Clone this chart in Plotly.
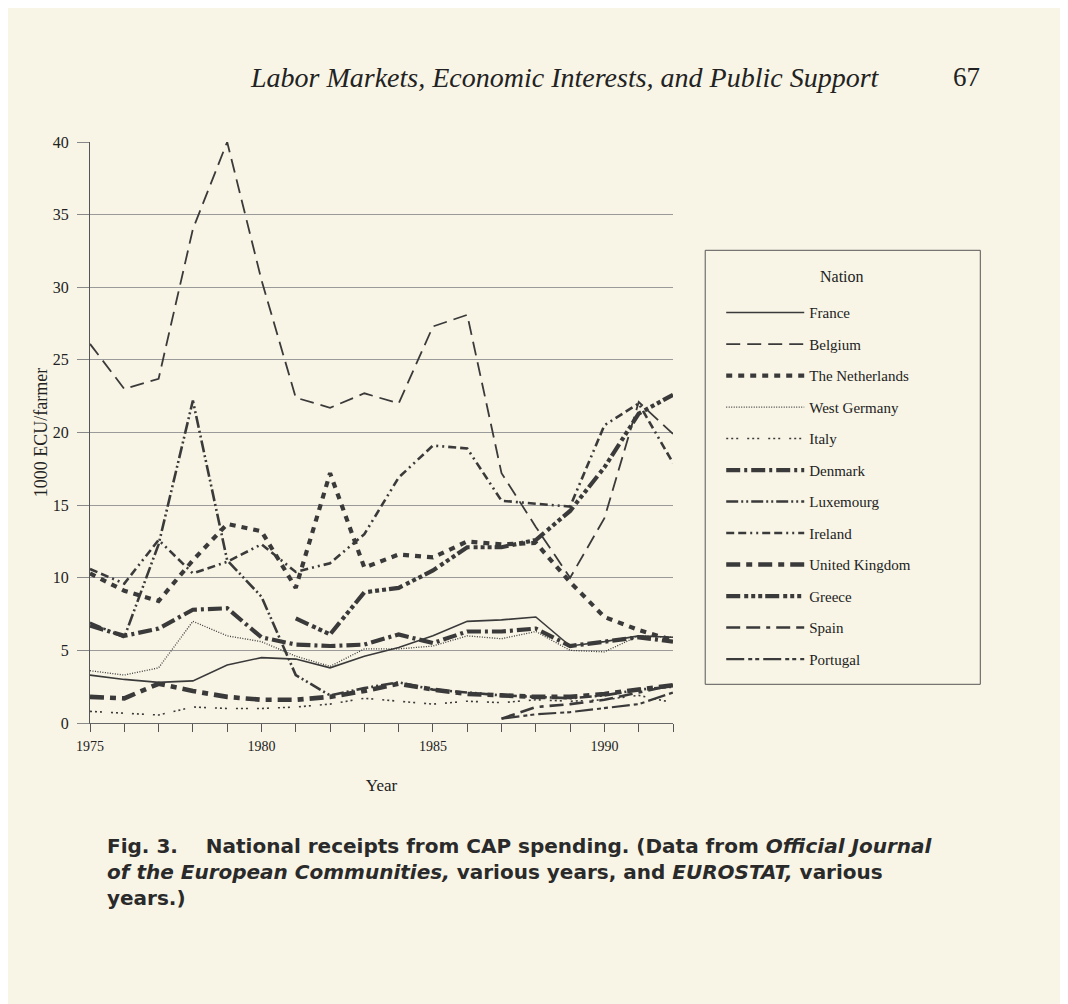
import plotly.graph_objects as go

# ---------------- data (1000 ECU per farmer) ----------------
years = list(range(1975, 1993))
france = [3.3, 3.0, 2.8, 2.9, 4.0, 4.5, 4.4, 3.8, 4.6, 5.2, 6.0, 7.0, 7.1, 7.3, 5.3, 5.6, 6.0, 5.9]
belgium = [26.1, 23.0, 23.7, 34.0, 40.0, 30.5, 22.4, 21.7, 22.7, 22.0, 27.3, 28.1, 17.2, 13.5, 10.0, 14.1, 22.1, 19.9]
netherlands = [10.3, 9.1, 8.4, 11.2, 13.7, 13.2, 9.3, 17.2, 10.7, 11.6, 11.4, 12.5, 12.3, 12.4, 9.7, 7.3, 6.4, 5.7]
west_germany = [3.6, 3.3, 3.8, 7.0, 6.0, 5.6, 4.6, 3.9, 5.1, 5.1, 5.3, 6.0, 5.8, 6.3, 5.0, 4.9, 6.0, 5.9]
italy = [0.8, 0.65, 0.55, 1.1, 1.0, 1.0, 1.1, 1.3, 1.7, 1.5, 1.3, 1.5, 1.4, 1.6, 1.5, 1.6, 1.9, 1.4]
denmark = [6.7, 6.0, 6.5, 7.8, 7.9, 5.9, 5.4, 5.3, 5.4, 6.1, 5.5, 6.3, 6.3, 6.5, 5.3, 5.6, 5.9, 5.6]
luxembourg = [6.9, 5.9, 12.3, 22.2, 11.2, 8.7, 3.3, 1.9, 2.4, 2.8, 2.3, 2.1, 1.9, 1.8, 1.7, 1.9, 2.3, 2.5]
ireland = [10.6, 9.6, 12.6, 10.3, 11.1, 12.3, 10.4, 11.0, 13.0, 16.9, 19.1, 18.9, 15.3, 15.1, 14.9, 20.5, 22.0, 17.9]
united_kingdom = [1.8, 1.7, 2.7, 2.2, 1.8, 1.6, 1.6, 1.8, 2.2, 2.7, 2.3, 2.0, 1.9, 1.8, 1.8, 2.0, 2.3, 2.6]
greece_years = list(range(1981, 1993))
greece = [7.2, 6.1, 9.0, 9.3, 10.5, 12.1, 12.1, 12.6, 14.6, 17.6, 21.3, 22.6]
iberia_years = list(range(1987, 1993))
spain = [0.3, 1.1, 1.3, 1.6, 2.1, 2.6]
portugal = [0.3, 0.6, 0.75, 1.0, 1.3, 2.1]

x_tick_years = list(range(1975, 1993))
x_tick_labels = [str(y) if y % 5 == 0 else "" for y in x_tick_years]
y_ticks = [0, 5, 10, 15, 20, 25, 30, 35, 40]

INK = "#3a3a3a"
PAPER = "#f8f5e6"
SERIF = "Liberation Serif, Times New Roman, serif"
SANS = "DejaVu Sans, Liberation Sans, sans-serif"

series = [
    ("France", years, france, 1.6, "solid"),
    ("Belgium", years, belgium, 1.8, "14px,7px"),
    ("The Netherlands", years, netherlands, 4.2, "6px,6px"),
    ("West Germany", years, west_germany, 1.3, "1px,1.5px"),
    ("Italy", years, italy, 1.6, "2px,3px,2px,3px,2px,9px"),
    ("Denmark", years, denmark, 4.2, "14px,4px,3px,4px"),
    ("Luxemourg", years, luxembourg, 2.6, "12px,3px,2px,3px,2px,3px"),
    ("Ireland", years, ireland, 2.6, "8px,4px,8px,4px,2px,4px,2px,4px"),
    ("United Kingdom", years, united_kingdom, 4.6, "14px,6px,6px,6px"),
    ("Greece", greece_years, greece, 4.2, "14px,4px,4px,3px,4px,3px,4px,3px"),
    ("Spain", iberia_years, spain, 2.6, "14px,6px,14px,6px,4px,6px"),
    ("Portugal", iberia_years, portugal, 2.2, "18px,4px,4px,3px,4px,4px"),
]

fig = go.Figure()
for i, (name, xs, ys, w, dash) in enumerate(series):
    fig.add_trace(go.Scatter(
        x=xs, y=ys, name=name, mode="lines", legendgroup=f"g{i}",
        line=dict(color=INK, width=w, dash=dash),
    ))

# screen geometry of the plot area (page has an 8px body margin)
OFF = 8
W, H = 1068, 1004
L, R, T, B = 90, 672.8, 141.7, 722.7
def px(xp):
    return (xp - L) / (R - L)
def py(yp):
    return (B - yp) / (B - T)

fig.update_layout(
    width=W, height=H,
    margin=dict(l=L - OFF, r=W + OFF - R, t=T - OFF, b=H + OFF - B, pad=0),
    paper_bgcolor=PAPER, plot_bgcolor=PAPER,
    font=dict(family=SERIF, color="#222", size=14),
    showlegend=True,
    legend=dict(
        x=px(721), y=py(296), xanchor="left", yanchor="top",
        bgcolor="rgba(0,0,0,0)", borderwidth=0,
        font=dict(family=SERIF, size=15, color="#222"),
        tracegroupgap=9, itemwidth=78,
    ),
    xaxis=dict(
        range=[1975, 1992], tickmode="array", tickvals=x_tick_years, ticktext=x_tick_labels,
        ticks="outside", ticklen=8, tickcolor="#555", tickwidth=1, ticklabelstandoff=2,
        showgrid=False, zeroline=False, showline=True, linecolor="#666", linewidth=1,
        tickfont=dict(family=SERIF, size=14, color="#222"),
        title=dict(text="Year", font=dict(family=SERIF, size=17, color="#222"), standoff=26),
        fixedrange=True,
    ),
    yaxis=dict(
        range=[0, 40], tickmode="array", tickvals=y_ticks,
        ticks="outside", ticklen=12, tickcolor="#888", tickwidth=1, ticklabelstandoff=5,
        showgrid=True, gridcolor="#9a9a9a", gridwidth=1,
        zeroline=False, showline=True, linecolor="#555", linewidth=1,
        tickfont=dict(family=SERIF, size=16, color="#222"),
        title=dict(text="1000 ECU/farmer", font=dict(family=SERIF, size=18, color="#222"), standoff=0),
        fixedrange=True,
    ),
    shapes=[
        dict(type="rect", xref="paper", yref="paper",
             x0=px(705), x1=px(980), y0=py(684), y1=py(250),
             line=dict(color="#555", width=1), fillcolor="rgba(0,0,0,0)"),
    ],
    annotations=[
        dict(text="Nation", xref="paper", yref="paper", x=px(842), y=py(276),
             xanchor="center", yanchor="middle", showarrow=False,
             font=dict(family=SERIF, size=16, color="#222")),
        dict(text="<i>Labor Markets, Economic Interests, and Public Support</i>",
             xref="paper", yref="paper", x=px(248), y=py(77), xanchor="left", yanchor="middle",
             showarrow=False, font=dict(family=SERIF, size=28, color="#222")),
        dict(text="67", xref="paper", yref="paper", x=px(966), y=py(77), xanchor="center", yanchor="middle",
             showarrow=False, font=dict(family=SERIF, size=27, color="#222")),
        dict(text="<b>Fig. 3.&nbsp;&nbsp;&nbsp; National receipts from CAP spending. (Data from <i>Official Journal</i></b><br>"
                  "<b><i>of the European Communities,</i> various years, and <i>EUROSTAT,</i> various</b><br>"
                  "<b>years.)</b>",
             xref="paper", yref="paper", x=px(105), y=py(832), xanchor="left", yanchor="top", align="left",
             showarrow=False, font=dict(family=SANS, size=20, color="#2a2a2a")),
    ],
)

fig.write_html("out.html")
